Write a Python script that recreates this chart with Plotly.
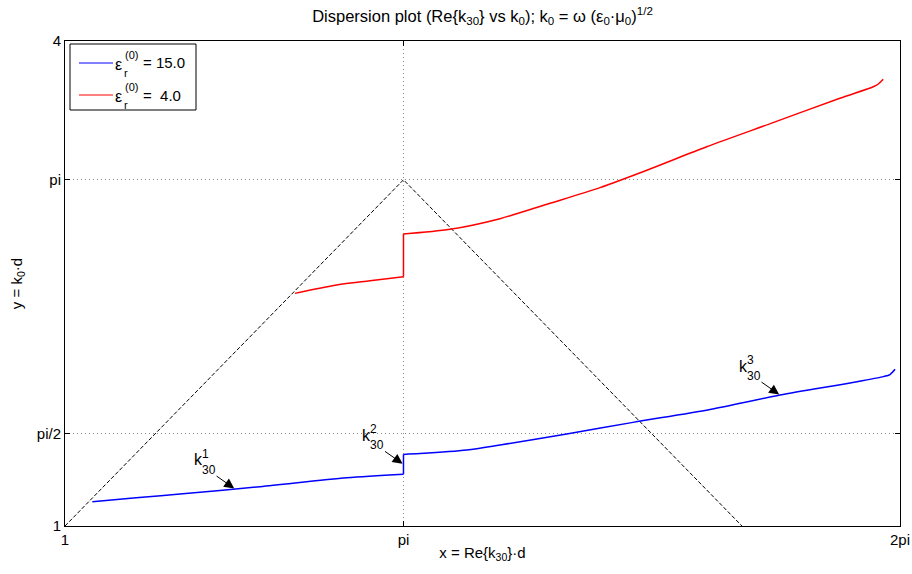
import numpy as np
import plotly.graph_objects as go

PI = np.pi

# Axis ticks
x_ticks = [1, PI, 2 * PI]
x_ticklabels = ["1", "pi", "2pi"]
y_ticks = [1, PI / 2, PI, 4]
y_ticklabels = ["1", "pi/2", "pi", "4"]

# Light lines k0*d = x and k0*d = 2*pi - x
light_x = [1, PI, 2 * PI - 1]
light_y = [1, PI, 1]

# eps_r = 15.0 : Re{k30}*d vs k0*d (lower and upper branch, jump at pi)
blue_x = [1.173, 1.450, 1.728, 2.234, 2.782, PI, PI, 3.246, 3.542, 3.752,
          4.174, 4.594, 5.081, 5.524, 5.967, 6.178, 6.220, 6.252]
blue_y = [1.150, 1.174, 1.198, 1.243, 1.298, 1.320, 1.443, 1.448, 1.470, 1.501,
          1.569, 1.641, 1.721, 1.810, 1.885, 1.924, 1.937, 1.969]

# eps_r = 4.0
red_x = [2.455, 2.719, 2.930, PI, PI, 3.436, 3.752, 4.069, 4.385, 4.701,
         5.060, 5.480, 5.903, 6.114, 6.146, 6.177]
red_y = [2.439, 2.491, 2.517, 2.542, 2.806, 2.835, 2.901, 2.996, 3.093, 3.208,
         3.346, 3.495, 3.646, 3.717, 3.734, 3.763]

legend_names = ["15.0", "\u00a04.0"]
legend_colors = ["#0000ff", "#ff0000"]

FONT = "Liberation Sans, Arial, Helvetica, sans-serif"
W, H = 912, 574
ML, MR, MT, MB = 65, 12, 41, 48
PW, PH = W - ML - MR, H - MT - MB


def px(x):
    return (x - ML) / PW


def py(y):
    return (MT + PH - y) / PH


def split_at_jump(xs, ys):
    """Insert gaps so each branch is smoothed separately and the jump stays vertical."""
    i = xs.index(PI)
    sx = list(xs[:i + 1]) + [None, xs[i], xs[i + 1], None] + list(xs[i + 1:])
    sy = list(ys[:i + 1]) + [None, ys[i], ys[i + 1], None] + list(ys[i + 1:])
    return sx, sy


fig = go.Figure()

fig.add_trace(go.Scatter(x=light_x, y=light_y, mode="lines",
                         line=dict(color="black", width=1, dash="4px,2px"),
                         showlegend=False, hoverinfo="skip"))
for xs, ys, col in [(blue_x, blue_y, legend_colors[0]), (red_x, red_y, legend_colors[1])]:
    sx, sy = split_at_jump(xs, ys)
    fig.add_trace(go.Scatter(x=sx, y=sy, mode="lines", connectgaps=False,
                             line=dict(color=col, width=1.5, shape="spline", smoothing=0.8),
                             showlegend=False))


def k_label(x, y, idx):
    fig.add_annotation(x=x, y=y, text="", showarrow=True, ax=-20, ay=-14,
                       arrowhead=2, arrowsize=2, arrowwidth=1,
                       arrowcolor="black", standoff=1)
    fig.add_annotation(x=x, y=y, text="k", showarrow=False, xshift=-37,
                       yshift=29, xanchor="center", yanchor="middle",
                       font=dict(size=16, color="black", family=FONT))
    fig.add_annotation(x=x, y=y, text=idx, showarrow=False, xshift=-30,
                       yshift=35, xanchor="center", yanchor="middle",
                       font=dict(size=12, color="black", family=FONT))
    fig.add_annotation(x=x, y=y, text="30", showarrow=False, xshift=-26,
                       yshift=19, xanchor="center", yanchor="middle",
                       font=dict(size=12, color="black", family=FONT))


n_low = blue_x.index(PI)
k_label(2.076, float(np.interp(2.076, blue_x[:n_low + 1], blue_y[:n_low + 1])), "1")
k_label(PI, (blue_y[n_low] + blue_y[n_low + 1]) / 2, "2")
k_label(5.524, float(np.interp(5.524, blue_x[n_low + 1:], blue_y[n_low + 1:])), "3")

# Legend box
fig.add_shape(type="rect", xref="paper", yref="paper",
              x0=px(70), x1=px(196), y0=py(44), y1=py(110),
              line=dict(color="black", width=1), fillcolor="white", layer="above")
for i, (name, col) in enumerate(zip(legend_names, legend_colors)):
    ly = 63 + 32 * i
    fig.add_shape(type="line", xref="paper", yref="paper",
                  x0=px(79), x1=px(113), y0=py(ly), y1=py(ly),
                  line=dict(color=col, width=1), layer="above")
    fig.add_annotation(xref="paper", yref="paper", x=px(118.5), y=py(ly + 1),
                       xanchor="center", yanchor="middle",
                       text="\u03b5", showarrow=False,
                       font=dict(size=16, color="black", family=FONT))
    fig.add_annotation(xref="paper", yref="paper", x=px(131.3), y=py(ly - 8.5),
                       xanchor="center", yanchor="middle",
                       text="(0)", showarrow=False,
                       font=dict(size=11, color="black", family=FONT))
    fig.add_annotation(xref="paper", yref="paper", x=px(125.7), y=py(ly + 10),
                       xanchor="center", yanchor="middle",
                       text="r", showarrow=False,
                       font=dict(size=11, color="black", family=FONT))
    fig.add_annotation(xref="paper", yref="paper", x=px(141), y=py(ly),
                       xanchor="left", yanchor="middle", text="= " + name, showarrow=False,
                       font=dict(size=15, color="black", family=FONT))

axis_common = dict(showline=True, linecolor="black", linewidth=1,
                   mirror="allticks", ticks="inside", ticklen=5,
                   tickcolor="black", showgrid=True, gridcolor="#888888",
                   griddash="1px,3px", gridwidth=1, zeroline=False,
                   automargin=False,
                   tickfont=dict(size=15, color="black", family=FONT))

fig.update_layout(
    width=W, height=H,
    margin=dict(l=ML, r=MR, t=MT, b=MB),
    paper_bgcolor="white", plot_bgcolor="white",
    font=dict(family=FONT, color="black", size=15),
    title=dict(text="Dispersion plot (Re{k<sub>30</sub>} vs k<sub>0</sub>); "
                    "k<sub>0</sub> = \u03c9 (\u03b5<sub>0</sub>\u00b7\u03bc<sub>0</sub>)<sup>1/2</sup>",
               x=(ML + PW / 2) / W, xanchor="center", y=1 - 16 / H, yanchor="middle",
               font=dict(size=16.5, color="black", family=FONT)),
    xaxis=dict(range=[1, 2 * PI], tickvals=x_ticks, ticktext=x_ticklabels,
               title=dict(text="x = Re{k<sub>30</sub>}\u00b7d", standoff=0,
                          font=dict(size=15)),
               **axis_common),
    yaxis=dict(range=[1, 4], tickvals=y_ticks, ticktext=y_ticklabels,
               title=dict(text="y = k<sub>0</sub>\u00b7d", standoff=10,
                          font=dict(size=15)),
               **axis_common),
    showlegend=False,
)

fig.write_html("out.html")
